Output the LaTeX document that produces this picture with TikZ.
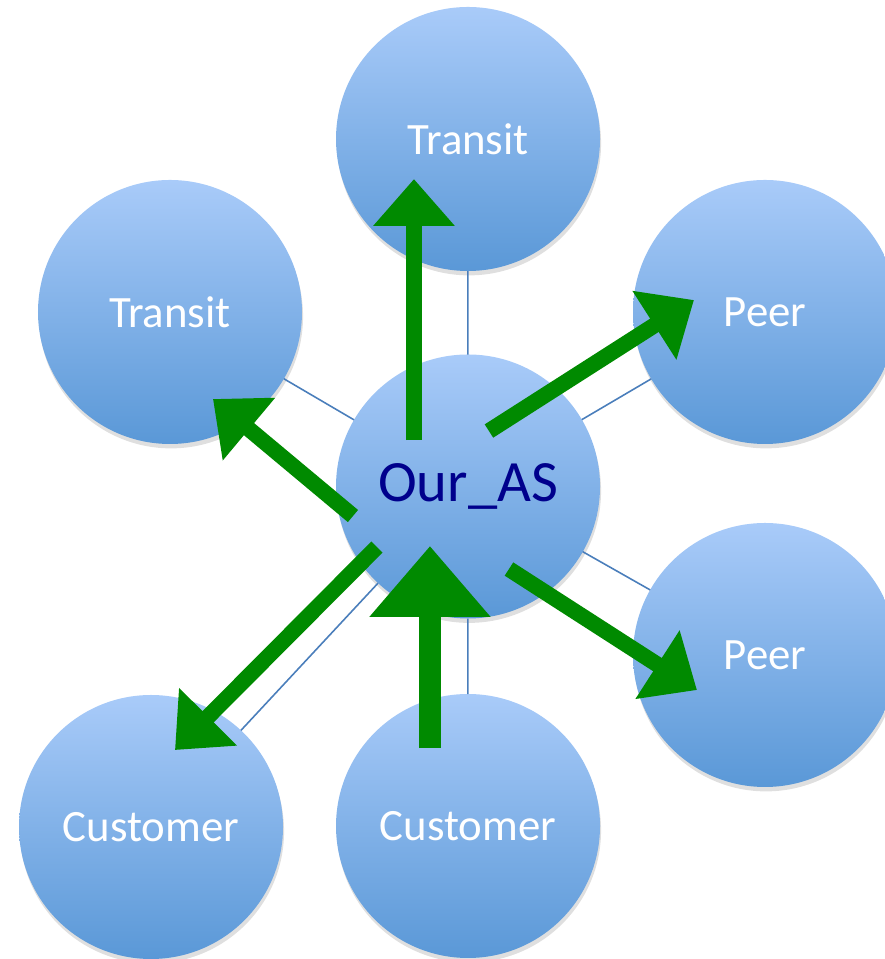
\documentclass[tikz,border=0pt]{standalone}
\usepackage{fontspec}
\setsansfont{Carlito}
\usepackage{tkz-graph}
\usetikzlibrary{arrows.meta}
\usetikzlibrary{shapes}
\usetikzlibrary{shadows}
\definecolor{circTop}{HTML}{A9CBF9}
\definecolor{circBot}{HTML}{5A98D7}
\definecolor{linkBlue}{HTML}{4A7EBB}
\definecolor{flowGreen}{HTML}{008A00}
\definecolor{asNavy}{HTML}{00008C}

\begin{document}
\begin{tikzpicture}[scale = 10, font=\sffamily]
	\useasboundingbox (0,0) rectangle (1.768,1.918);
	\tikzstyle{VertexStyle} = []
	\tikzstyle{EdgeStyle} = [draw = linkBlue, line width = 0.9pt]
	\tikzstyle{asStyle}=[shape = circle, minimum size = 5.28cm, inner sep = 0pt, top color = circTop, bottom color = circBot, drop shadow = {shadow xshift = 0.6pt, shadow yshift = -2.5pt, opacity = 0.25}]
	\tikzstyle{otherStyle}=[asStyle, text = white, font = \sffamily\fontsize{25.5}{30}\selectfont]
	\tikzstyle{ourStyle}=[asStyle, text = asNavy, font = \sffamily\fontsize{33.3}{38}\selectfont]
	\tikzstyle{flowArrow}=[draw = flowGreen, line width = 9pt, -{Triangle[width = 44.8pt, length = 26.7pt]}]
	\tikzstyle{bigFlowArrow}=[draw = flowGreen, line width = 13pt, -{Triangle[width = 66.3pt, length = 40.3pt]}]
	\Vertex[style = otherStyle, x = 0.936, y = 1.640, L = {Transit}]{t1}
	\Vertex[style = otherStyle, x = 0.340, y = 1.294, L = {Transit}]{t2}
	\Vertex[style = otherStyle, x = 1.530, y = 1.294, L = {Peer}]{p1}
	\Vertex[style = otherStyle, x = 1.530, y = 0.608, L = {Peer}]{p2}
	\Vertex[style = otherStyle, x = 0.302, y = 0.264, L = {Customer}]{c1}
	\Vertex[style = otherStyle, x = 0.936, y = 0.266, L = {Customer}]{c2}
	\Vertex[style = ourStyle, x = 0.936, y = 0.945, L = {Our\_AS}]{us}
	\Edge(us)(t1)
	\Edge(us)(t2)
	\Edge(us)(p1)
	\Edge(us)(p2)
	\Edge(us)(c1)
	\Edge(us)(c2)
	% route announcements
	\coordinate (a1) at (0.828, 1.038);
	\coordinate (b1) at (0.828, 1.560);
	\coordinate (a2) at (0.978, 1.056);
	\coordinate (b2) at (1.388, 1.318);
	\coordinate (a3) at (0.706, 0.886);
	\coordinate (b3) at (0.426, 1.120);
	\coordinate (a4) at (0.754, 0.824);
	\coordinate (b4) at (0.350, 0.418);
	\coordinate (a5) at (0.860, 0.422);
	\coordinate (b5) at (0.860, 0.826);
	\coordinate (a6) at (1.018, 0.780);
	\coordinate (b6) at (1.394, 0.538);
	\draw[flowArrow] (a1) -- (b1);
	\draw[flowArrow] (a2) -- (b2);
	\draw[flowArrow] (a3) -- (b3);
	\draw[flowArrow] (a4) -- (b4);
	\draw[bigFlowArrow] (a5) -- (b5);
	\draw[flowArrow] (a6) -- (b6);
\end{tikzpicture}
\end{document}
